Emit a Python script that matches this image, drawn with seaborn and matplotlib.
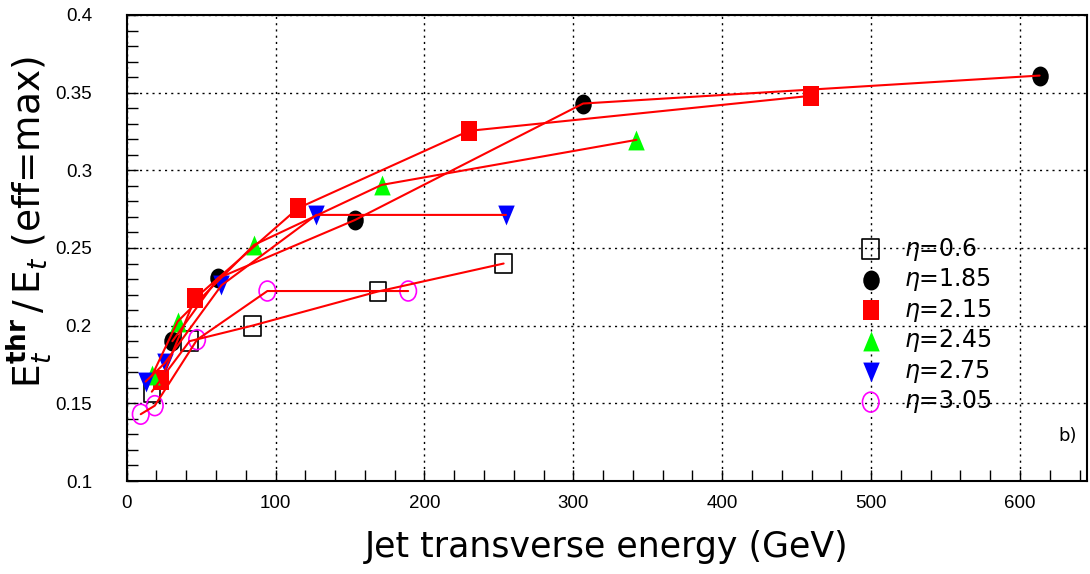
import numpy as np
import pandas as pd
import matplotlib
matplotlib.use('Agg')
import matplotlib.pyplot as plt
import seaborn as sns
from matplotlib.markers import MarkerStyle
from matplotlib.transforms import Affine2D
from matplotlib.ticker import MultipleLocator

# ---------------- data ----------------
series_labels = [r'$\eta$=0.6', r'$\eta$=1.85', r'$\eta$=2.15',
                 r'$\eta$=2.45', r'$\eta$=2.75', r'$\eta$=3.05']

et_eta060 = [16.9, 42.2, 84.4, 168.8, 253.2]
thr_eta060 = [0.1575, 0.190, 0.200, 0.222, 0.240]

et_eta185 = [30.7, 61.3, 153.3, 306.6, 613.2]
thr_eta185 = [0.190, 0.2305, 0.268, 0.343, 0.361]

et_eta215 = [23.0, 46.0, 115.0, 229.9, 459.8]
thr_eta215 = [0.165, 0.2176, 0.2756, 0.3254, 0.348]

et_eta245 = [17.1, 34.2, 85.6, 171.2, 342.4]
thr_eta245 = [0.168, 0.2026, 0.252, 0.2906, 0.3196]

et_eta275 = [12.7, 25.5, 63.7, 127.4, 254.8]
thr_eta275 = [0.164, 0.1758, 0.226, 0.2713, 0.2713]

et_eta305 = [9.45, 18.9, 47.3, 94.5, 189.1]
thr_eta305 = [0.143, 0.1485, 0.191, 0.2223, 0.2223]

x_ticks = [0, 100, 200, 300, 400, 500, 600]
y_ticks = [0.1, 0.15, 0.2, 0.25, 0.3, 0.35, 0.4]
y_tick_labels = ['0.1', '0.15', '0.2', '0.25', '0.3', '0.35', '0.4']

all_x = [et_eta060, et_eta185, et_eta215, et_eta245, et_eta275, et_eta305]
all_y = [thr_eta060, thr_eta185, thr_eta215, thr_eta245, thr_eta275, thr_eta305]

# ---------------- style ----------------
sns.set_style('ticks')
plt.rcParams['font.family'] = ['DejaVu Sans']
plt.rcParams['axes.linewidth'] = 1.5
for key in ['text.color', 'axes.labelcolor', 'xtick.color', 'ytick.color',
            'axes.edgecolor']:
    plt.rcParams[key] = 'black'


def stretched(m, sx=0.83):
    ms = MarkerStyle(m)
    p = ms.get_path().transformed(ms.get_transform())
    return MarkerStyle(p.transformed(Affine2D().scale(sx, 1.0)))


styles = [
    dict(marker=stretched('s'), facecolor='none', edgecolor='black', linewidth=1.2),
    dict(marker=stretched('o'), facecolor='black', edgecolor='black', linewidth=0),
    dict(marker=stretched('s'), facecolor='#ff0000', edgecolor='#ff0000', linewidth=0),
    dict(marker=stretched('^'), facecolor='#00ff00', edgecolor='#00ff00', linewidth=0),
    dict(marker=stretched('v'), facecolor='#0000ff', edgecolor='#0000ff', linewidth=0),
    dict(marker=stretched('o'), facecolor='none', edgecolor='#ff00ff', linewidth=1.2),
]

fig = plt.figure(figsize=(10.9, 5.74), dpi=100)
ax = fig.add_axes([0.1162, 0.162, 0.8810, 0.8119])

handles = []
for xs, ys, lab, st in zip(all_x, all_y, series_labels, styles):
    df = pd.DataFrame({'et': xs, 'thr': ys})
    sns.scatterplot(data=df, x='et', y='thr', s=205, ax=ax, label=lab,
                    zorder=3, legend=False, **st)
    handles.append(ax.collections[-1])
    sns.lineplot(data=df, x='et', y='thr', sort=False, estimator=None,
                 color='#ff0000', lw=1.5, ax=ax, zorder=4, legend=False)

ax.set_xlim(0, 645)
ax.set_ylim(0.1, 0.4)
ax.set_xticks(x_ticks)
ax.set_yticks(y_ticks)
ax.set_yticklabels(y_tick_labels)
ax.xaxis.set_minor_locator(MultipleLocator(20))
ax.yaxis.set_minor_locator(MultipleLocator(0.01))
ax.tick_params(which='both', direction='in', length=8, width=1.0,
               top=False, right=False, colors='black')
ax.tick_params(axis='x', which='major', pad=10)
ax.tick_params(axis='y', which='major', pad=25)
for lbl in ax.get_xticklabels() + ax.get_yticklabels():
    lbl.set_fontfamily('Liberation Sans')
    lbl.set_fontsize(13.5)
    lbl.set_color('black')

ax.grid(True, which='major', color='black', lw=1.0, ls=(0, (1.5, 3)))
ax.set_axisbelow(True)

ax.set_xlabel('Jet transverse energy (GeV)', fontsize=25, color='black')
ax.xaxis.set_label_coords(0.5, -0.105)
ax.set_ylabel(r'$\mathrm{E}_t^{\mathbf{thr}}\,/\,\mathrm{E}_t$ (eff=max)',
              fontsize=27, color='black')
ax.yaxis.set_label_coords(-0.076, 0.556)

leg = ax.legend(handles=handles, labels=series_labels, frameon=False,
                fontsize=17, loc='center left',
                bbox_to_anchor=(0.788, 0.433), bbox_transform=fig.transFigure,
                handlelength=1.0, handletextpad=0.9, labelspacing=0.15,
                borderpad=0, borderaxespad=0)
for t in leg.get_texts():
    t.set_color('black')

ax.text(0.980, 0.097, 'b)', transform=ax.transAxes, fontsize=13,
        ha='center', va='center', color='black')

fig.savefig('out.png', dpi=100)
